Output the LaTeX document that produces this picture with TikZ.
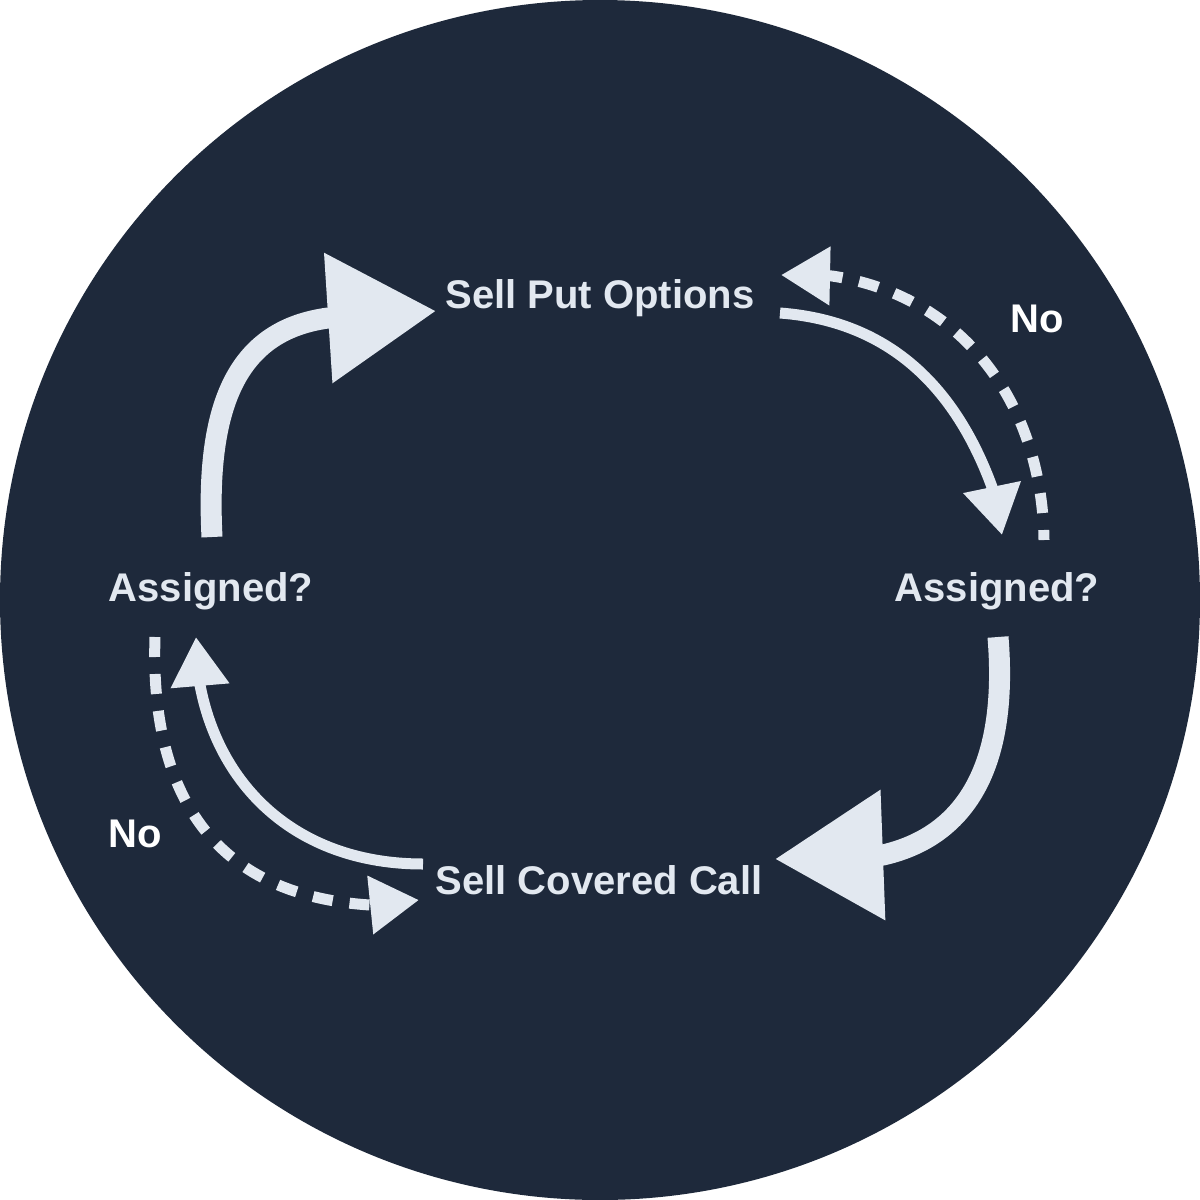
\documentclass[tikz,border=0pt]{standalone}
\usepackage{fontspec}
\setmainfont{Liberation Sans}
\usetikzlibrary{arrows.meta}
\definecolor{bgc}{HTML}{1E293B}
\definecolor{fgc}{HTML}{E2E8F0}
\tikzset{
  lbl/.style={anchor=base, inner sep=0pt, text=fgc, font=\bfseries\fontsize{40}{48}\selectfont},
  nolbl/.style={anchor=base, inner sep=0pt, text=white, font=\bfseries\fontsize{40}{48}\selectfont},
  thickarr/.style={draw=fgc, line width=21pt, -{Triangle[length=108pt,width=125pt]}, fill=none},
  thinarr/.style={draw=fgc, line width=11pt, -{Triangle[length=49pt,width=56pt]}},
  dasharr/.style={draw=fgc, line width=11pt, dash pattern=on 20pt off 17pt, -{Triangle[length=49pt,width=56pt]}}
}
\begin{document}
\begin{tikzpicture}[x=1pt,y=-1pt]
\useasboundingbox (0,0) rectangle (1200,1200);
\fill[white] (0,0) rectangle (1200,1200);
\fill[bgc] (600,600) circle (600pt);

\node[lbl] (sp) at (600,308) {Sell Put Options};
\node[lbl] (ra) at (997,601) {Assigned?};
\node[lbl] (la) at (211,601) {Assigned?};
\node[lbl] (cc) at (599,894) {Sell Covered Call};
\node[nolbl] (no1) at (1037,332) {No};
\node[nolbl] (no2) at (135,847) {No};

% left Assigned? -> Sell Put Options (thick)
\draw[thickarr] ([shift={(1,-64)}]la.base) .. controls (205,400) and (240,330) .. (328,318) -- ([shift={(-164,3)}]sp.base);
% Sell Put Options -> right Assigned? (thin)
\draw[thinarr] ([shift={(180,5)}]sp.base) .. controls (900,322) and (960,400) .. (992,487) -- ([shift={(5,-66)}]ra.base);
% right Assigned? -> Sell Put Options (No, dashed)
\draw[dasharr, dash phase=10pt] ([shift={(47,-61)}]ra.base) .. controls (1042,400) and (960,295) .. (832,276) -- ([shift={(181,-33)}]sp.base);
% right Assigned? -> Sell Covered Call (thick)
\draw[thickarr] ([shift={(1,36)}]ra.base) .. controls (1008,760) and (970,835) .. (883,855) -- ([shift={(176,-35)}]cc.base);
% Sell Covered Call -> left Assigned? (thin)
\draw[thinarr] ([shift={(-176,-30)}]cc.base) .. controls (300,864) and (220,790) .. (200,685) -- ([shift={(-15,36)}]la.base);
% left Assigned? -> Sell Covered Call (No, dashed)
\draw[dasharr] ([shift={(-56,36)}]la.base) .. controls (150,790) and (210,895) .. (370,905) -- ([shift={(-180,6)}]cc.base);
\end{tikzpicture}
\end{document}
